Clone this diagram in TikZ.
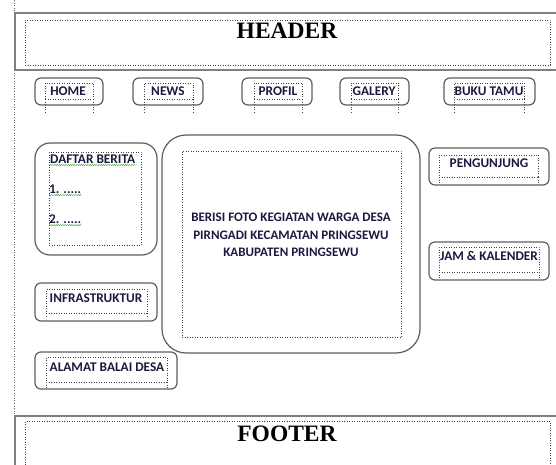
\documentclass[tikz,border=0pt]{standalone}
\usepackage{fontspec}
\setmainfont{Liberation Serif}
\newfontfamily\carlito{Carlito}
\usetikzlibrary{fit,decorations.pathmorphing}

\definecolor{edgegray}{HTML}{808080}
\definecolor{boxgray}{HTML}{5E5E5E}
\definecolor{inkblue}{HTML}{1A1A40}
\definecolor{spellgreen}{HTML}{3FA33F}

\tikzset{
  bandbox/.style={draw=edgegray, line width=1.6pt, inner sep=0pt},
  roundbox/.style={draw=boxgray, line width=1.2pt, rounded corners=6pt, inner sep=0pt},
  biground/.style={roundbox, rounded corners=15pt},
  hugeround/.style={roundbox, rounded corners=24pt},
  textframe/.style={draw=black!75, dotted, line width=0.5pt, inner sep=0pt},
  frameline/.style={draw=black!75, dotted, line width=0.5pt},
  guide/.style={draw=black!60, dotted, line width=0.6pt},
  titletext/.style={font=\bfseries\fontsize{23.5}{26}\selectfont, inner sep=0pt},
  navlabel/.style={font=\carlito\bfseries\fontsize{13.3}{15}\selectfont, text=inkblue, inner sep=0pt},
  bodylabel/.style={font=\carlito\bfseries\fontsize{13}{17.5}\selectfont, text=inkblue, inner sep=0pt, align=center},
  spell/.style={draw=spellgreen, line width=0.45pt, decorate,
    decoration={snake, amplitude=0.55pt, segment length=2.2pt}}
}

\begin{document}
\begin{tikzpicture}[x=1pt, y=-1pt]
  \useasboundingbox (0,0) rectangle (556,465);
  \clip (0,0) rectangle (556,465);

  % page margin guide
  \coordinate (guidetop) at (14,0);
  \coordinate (guidebottom) at (14,465);
  \draw[guide] (guidetop) -- (guidebottom);

  % header band
  \node[bandbox, fit={(15,13) (560,70)}] (header) {};
  \node[textframe, fit={(25,20) (550,65)}] (headerframe) {};
  \node[titletext] (headertext) at (287,31) {HEADER};

  % footer band
  \node[bandbox, fit={(15,416) (560,470)}] (footer) {};
  \node[textframe, fit={(25,421) (550,468)}] (footerframe) {};
  \node[titletext] (footertext) at (287,434) {FOOTER};

  % navigation buttons
  \node[roundbox, fit={(35,78) (103,105)}] (home) {};
  \node[textframe, fit={(45,83) (93,99)}] (homeframe) {};
  \draw[frameline] (homeframe.south west) -- ++(0,14);
  \draw[frameline] (homeframe.south east) -- ++(0,14);
  \node[navlabel] (hometext) at (68,91) {HOME};

  \node[roundbox, fit={(133,78) (203,105)}] (news) {};
  \node[textframe, fit={(144,83) (193,99)}] (newsframe) {};
  \draw[frameline] (newsframe.south west) -- ++(0,14);
  \draw[frameline] (newsframe.south east) -- ++(0,14);
  \node[navlabel] (newstext) at (168,91) {NEWS};

  \node[roundbox, fit={(242,78) (312,105)}] (profil) {};
  \node[textframe, fit={(254,83) (302,99)}] (profilframe) {};
  \draw[frameline] (profilframe.south west) -- ++(0,14);
  \draw[frameline] (profilframe.south east) -- ++(0,14);
  \node[navlabel] (profiltext) at (278,91) {PROFIL};

  \node[roundbox, fit={(340,78) (409,105)}] (galery) {};
  \node[textframe, fit={(351,83) (398,99)}] (galeryframe) {};
  \draw[frameline] (galeryframe.south west) -- ++(0,14);
  \draw[frameline] (galeryframe.south east) -- ++(0,14);
  \node[navlabel] (galerytext) at (374,91) {GALERY};

  \node[roundbox, fit={(444,78) (535,105)}] (bukutamu) {};
  \node[textframe, fit={(454,83) (524,99)}] (bukutamuframe) {};
  \draw[frameline] (bukutamuframe.south west) -- ++(0,14);
  \draw[frameline] (bukutamuframe.south east) -- ++(0,14);
  \node[navlabel] (bukutamutext) at (489,91) {BUKU TAMU};

  % news list panel
  \node[biground, fit={(35,143) (157,255)}] (daftar) {};
  \node[textframe, fit={(49,152) (141,245)}] (daftarframe) {};
  \node[navlabel, anchor=west] (daftartitle) at (50,159) {DAFTAR\ BERITA};
  \node[navlabel, anchor=west] (itemone) at (49,189) {1. .....};
  \node[navlabel, anchor=west] (itemtwo) at (49,219) {2. .....};
  \draw[spell] (daftartitle.south west) ++(0,1.5) -- ([yshift=-1.5pt]daftartitle.south east);
  \draw[spell] (itemone.south west) ++(0,1.5) -- ([yshift=-1.5pt]itemone.south east);
  \draw[spell] (itemtwo.south west) ++(0,1.5) -- ([yshift=-1.5pt]itemtwo.south east);

  % photo area
  \node[hugeround, fit={(162,135) (420,353)}] (photo) {};
  \node[textframe, fit={(182,151) (401,337)}] (photoframe) {};
  \node[bodylabel] (phototext) at (291,235)
    {BERISI FOTO KEGIATAN WARGA DESA\\PIRNGADI KECAMATAN PRINGSEWU\\KABUPATEN PRINGSEWU};

  % right column widgets
  \node[roundbox, fit={(429,148) (549,185)}] (pengunjung) {};
  \node[textframe, fit={(439,155) (538,177)}] (pengunjungframe) {};
  \draw[frameline] (pengunjungframe.south west) -- ++(0,6);
  \draw[frameline] (pengunjungframe.south east) -- ++(0,6);
  \node[navlabel] (pengunjungtext) at (489,163) {PENGUNJUNG};

  \node[roundbox, fit={(429,242) (549,280)}] (jam) {};
  \node[textframe, fit={(439,247) (539,272)}] (jamframe) {};
  \draw[frameline] (jamframe.south west) -- ++(0,7);
  \draw[frameline] (jamframe.south east) -- ++(0,7);
  \node[navlabel] (jamtext) at (489,256) {JAM \& KALENDER};

  % left column widgets
  \node[roundbox, fit={(35,283) (157,321)}] (infra) {};
  \node[textframe, fit={(46,289) (147,313)}] (infraframe) {};
  \draw[frameline] (infraframe.south west) -- ++(0,5);
  \draw[frameline] (infraframe.south east) -- ++(0,5);
  \node[navlabel] (infratext) at (96,298) {INFRASTRUKTUR};

  \node[roundbox, fit={(35,352) (177,389)}] (alamat) {};
  \node[textframe, fit={(46,357) (167,382)}] (alamatframe) {};
  \draw[frameline] (alamatframe.south west) -- ++(0,6);
  \draw[frameline] (alamatframe.south east) -- ++(0,6);
  \node[navlabel] (alamattext) at (107,367) {ALAMAT BALAI DESA};
\end{tikzpicture}
\end{document}
